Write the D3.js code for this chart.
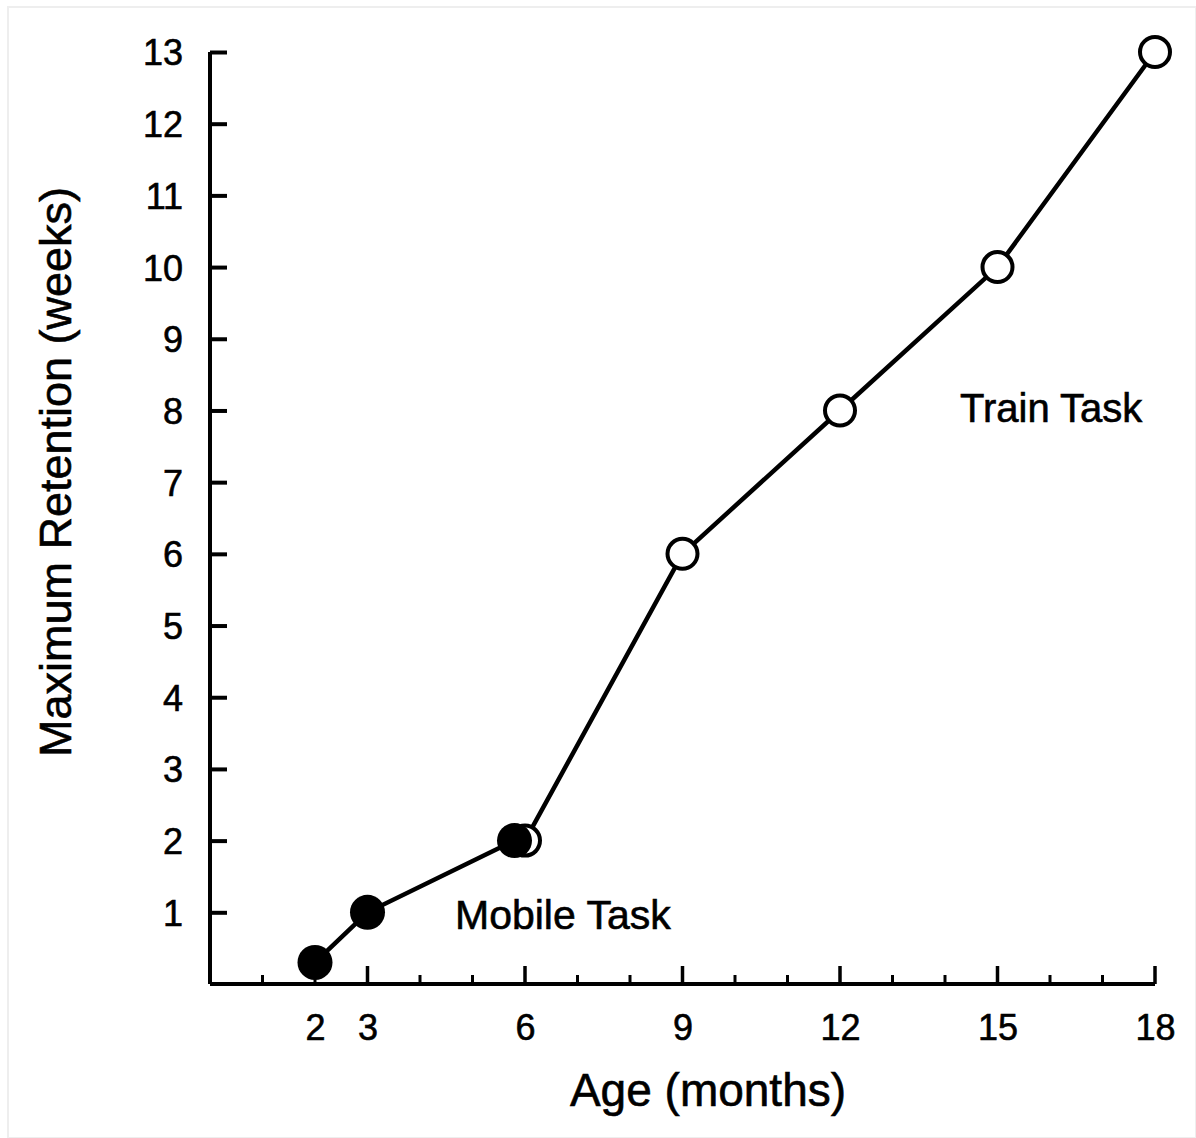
<!DOCTYPE html>
<html>
<head>
<meta charset="utf-8">
<script src="https://cdn.jsdelivr.net/npm/d3@7"></script>
<style>
  html, body { margin: 0; padding: 0; background: #fff; }
  svg { display: block; }
  text { font-family: "Liberation Sans", Arial, Helvetica, sans-serif; fill: #000; stroke: #000; stroke-width: 0.6px; }
</style>
</head>
<body>
<script>
// ---- data ----
const mobileAges = [2, 3, 5.8];
const mobileRetention = [0.3, 1, 2];
const trainAges = [6, 9, 12, 15, 18];
const trainRetention = [2, 6, 8, 10, 13];
const xTickLabels = [2, 3, 6, 9, 12, 15, 18];
const xMajorTicks = [3, 6, 9, 12, 15, 18];
const xMinorTicks = [1, 2, 4, 5, 7, 8, 10, 11, 13, 14, 16, 17];
const yTicks = [1, 2, 3, 4, 5, 6, 7, 8, 9, 10, 11, 12, 13];
const labels = { x: "Age (months)", y: "Maximum Retention (weeks)", mobile: "Mobile Task", train: "Train Task" };

const W = 1196, H = 1138;
const svg = d3.select("body").append("svg").attr("width", W).attr("height", H);
svg.append("rect").attr("width", W).attr("height", H).attr("fill", "#fff");
svg.append("rect").attr("x", 8).attr("y", 7).attr("width", W - 8).attr("height", H - 7)
  .attr("fill", "none").attr("stroke", "#eeeeee").attr("stroke-width", 2);

const x = d3.scaleLinear().domain([0, 18]).range([210, 1155]);
const y = d3.scaleLinear().domain([0, 13]).range([984, 52]);

// y axis
const yAxis = svg.append("g").attr("transform", `translate(${x(0)},0)`)
  .call(d3.axisLeft(y).tickValues(yTicks).tickSizeInner(-17).tickSizeOuter(0).tickPadding(27));
yAxis.select(".domain").attr("stroke", "#000").attr("stroke-width", 4).attr("d", `M0,${y(13)}V${y(0)}`);
yAxis.selectAll(".tick line").attr("stroke", "#000").attr("stroke-width", 4);
yAxis.selectAll(".tick text").style("font-size", "36px").attr("font-family", null).attr("dy", "0.36em");

// x axis (ticks point up)
const xAxis = svg.append("g").attr("transform", `translate(0,${y(0)})`)
  .call(d3.axisBottom(x).tickValues(xTickLabels).tickSizeInner(0).tickSizeOuter(0).tickPadding(30));
xAxis.select(".domain").attr("stroke", "#000").attr("stroke-width", 4).attr("d", `M${x(0)},0H${x(18)}`);
xAxis.selectAll(".tick line").remove();
xAxis.selectAll(".tick text").style("font-size", "36px").attr("font-family", null);

svg.append("g").selectAll("line.major").data(xMajorTicks).join("line")
  .attr("x1", d => x(d)).attr("x2", d => x(d))
  .attr("y1", y(0)).attr("y2", y(0) - 18)
  .attr("stroke", "#000").attr("stroke-width", 3.5);
svg.append("g").selectAll("line.minor").data(xMinorTicks).join("line")
  .attr("x1", d => x(d)).attr("x2", d => x(d))
  .attr("y1", y(0)).attr("y2", y(0) - 9)
  .attr("stroke", "#000").attr("stroke-width", 3);

// axis titles
svg.append("text").attr("x", 708).attr("y", 1106)
  .attr("text-anchor", "middle").style("font-size", "46px").text(labels.x);
svg.append("text").attr("transform", `translate(71,472) rotate(-90)`)
  .attr("text-anchor", "middle").style("font-size", "45px").text(labels.y);

// lines
const line = d3.line().x(d => x(d[0])).y(d => y(d[1]));
const mobileData = mobileAges.map((a, i) => [a, mobileRetention[i]]);
const trainData = trainAges.map((a, i) => [a, trainRetention[i]]);
svg.append("path").datum(mobileData).attr("d", line).attr("fill", "none").attr("stroke", "#000").attr("stroke-width", 4.5);
svg.append("path").datum(trainData).attr("d", line).attr("fill", "none").attr("stroke", "#000").attr("stroke-width", 4.5);

// markers
svg.append("g").selectAll("circle").data(trainData).join("circle")
  .attr("cx", d => x(d[0])).attr("cy", d => y(d[1])).attr("r", 15)
  .attr("fill", "#fff").attr("stroke", "#000").attr("stroke-width", 4);
svg.append("g").selectAll("circle").data(mobileData).join("circle")
  .attr("cx", d => x(d[0])).attr("cy", d => y(d[1])).attr("r", 17.5)
  .attr("fill", "#000");

// annotations
svg.append("text").attr("x", 455).attr("y", y(0.92)).attr("dominant-baseline", "middle")
  .style("font-size", "41px").text(labels.mobile);
svg.append("text").attr("x", 960).attr("y", y(7.98)).attr("dominant-baseline", "middle")
  .style("font-size", "40px").text(labels.train);
</script>
</body>
</html>
